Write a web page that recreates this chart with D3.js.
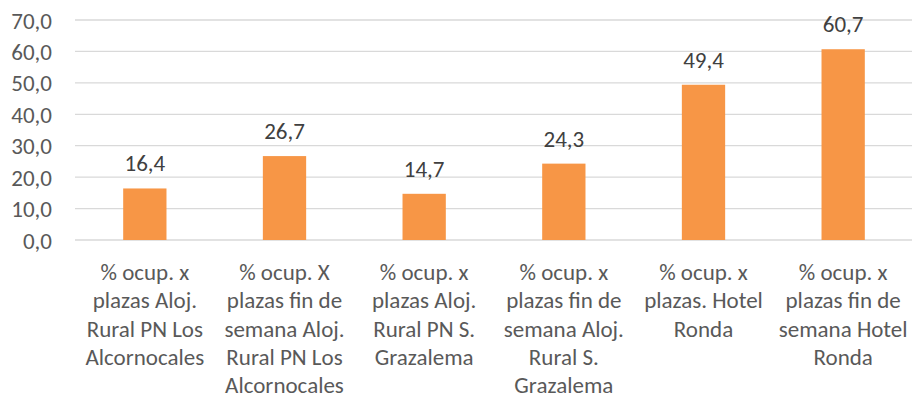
<!DOCTYPE html>
<html>
<head>
<meta charset="utf-8">
<script src="https://cdn.jsdelivr.net/npm/d3@7"></script>
<style>
  html, body { margin: 0; padding: 0; background: #fff; }
  svg { display: block; }
</style>
</head>
<body>
<svg id="chart" width="912" height="401"></svg>
<script>
// Occupancy categories (line breaks mark the label wrapping)
const categories = [
  "% ocup. x\nplazas Aloj.\nRural PN Los\nAlcornocales",
  "% ocup. X\nplazas fin de\nsemana Aloj.\nRural PN Los\nAlcornocales",
  "% ocup. x\nplazas Aloj.\nRural PN S.\nGrazalema",
  "% ocup. x\nplazas fin de\nsemana Aloj.\nRural S.\nGrazalema",
  "% ocup. x\nplazas. Hotel\nRonda",
  "% ocup. x\nplazas fin de\nsemana Hotel\nRonda"
];
const values = [16.4, 26.7, 14.7, 24.3, 49.4, 60.7];
const yTicks = [0, 10, 20, 30, 40, 50, 60, 70];

const svg = d3.select("#chart");
const font = "Carlito, Calibri, Lato, sans-serif";
const fontSize = 23;
const plot = { left: 75, right: 913, top: 20, bottom: 240 };

const fmt = v => d3.format(".1f")(v).replace(".", ",");

const x = d3.scaleBand().domain(d3.range(categories.length))
  .range([plot.left, plot.right]).paddingInner(0.69).paddingOuter(0.345);
const y = d3.scaleLinear().domain([0, 70]).range([plot.bottom, plot.top]);

// Gridlines
svg.append("g").selectAll("line").data(yTicks).join("line")
  .attr("x1", plot.left).attr("x2", plot.right - 1)
  .attr("y1", d => y(d)).attr("y2", d => y(d))
  .attr("stroke", "#d9d9d9").attr("stroke-width", 1.3);

// Y axis labels
const yAxis = d3.axisLeft(y).tickValues(yTicks).tickFormat(fmt).tickSize(0).tickPadding(0);
const ya = svg.append("g").attr("transform", "translate(52,0)").call(yAxis);
ya.select(".domain").remove();
ya.selectAll("text")
  .attr("font-family", font).attr("font-size", fontSize).attr("fill", "#595959")
  .attr("dy", "0.35em");

// Bars
svg.append("g").selectAll("rect").data(values).join("rect")
  .attr("x", (d, i) => x(i)).attr("width", x.bandwidth())
  .attr("y", d => y(d)).attr("height", d => y(0) - y(d))
  .attr("fill", "#f79646");

// Value labels
svg.append("g").selectAll("text").data(values).join("text")
  .attr("x", (d, i) => x(i) + x.bandwidth() / 2)
  .attr("y", d => y(d) - 17)
  .attr("text-anchor", "middle")
  .attr("font-family", font).attr("font-size", fontSize).attr("fill", "#404040")
  .text(d => fmt(d));

// Category labels
const cat = svg.append("g").selectAll("text").data(categories).join("text")
  .attr("text-anchor", "middle")
  .attr("font-family", font).attr("font-size", fontSize).attr("fill", "#595959");
cat.each(function(d, i) {
  const cx = x(i) + x.bandwidth() / 2;
  d3.select(this).selectAll("tspan").data(d.split("\n")).join("tspan")
    .attr("x", cx).attr("y", (l, j) => 280 + j * 28.3).text(l => l);
});
</script>
</body>
</html>
